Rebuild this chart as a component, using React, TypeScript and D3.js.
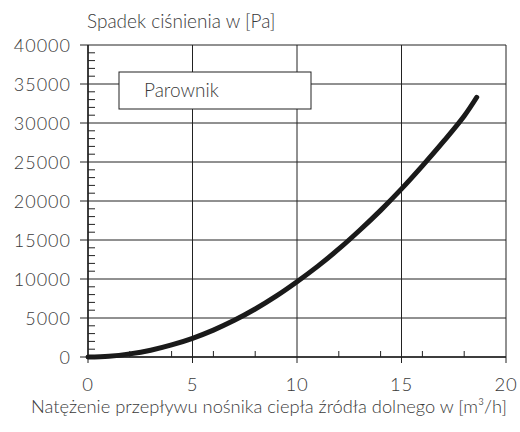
import React from "react";
import * as d3 from "d3";

const flowX = [0, 1, 2, 3, 4, 5, 6, 7, 8, 9, 10, 11, 12, 13, 14, 15, 16, 17, 18, 18.6];
const dropY = [0, 100, 400, 870, 1550, 2400, 3450, 4700, 6150, 7800, 9650, 11650, 13850, 16250, 18800, 21550, 24500, 27600, 30900, 33300];
const xTicks = [0, 5, 10, 15, 20];
const yTicks = [0, 5000, 10000, 15000, 20000, 25000, 30000, 35000, 40000];
const seriesName = "Parownik";
const yTitle = "Spadek ciśnienia w [Pa]";
const xTitle = "Natężenie przepływu nośnika ciepła źródła dolnego w [m³/h]";

export default function App() {
  const W = 520, H = 432;
  const L = 88, R = 506, T = 45, B = 357;
  const x = d3.scaleLinear().domain([0, 20]).range([L, R]);
  const y = d3.scaleLinear().domain([0, 40000]).range([B, T]);
  const line = d3.line<number>().x((_, i) => x(flowX[i])).y((d) => y(d)).curve(d3.curveCatmullRom);
  const minorY = d3.range(0, 40001, 1000).filter((v) => v % 5000 !== 0);
  const minorX = d3.range(0, 21, 2).filter((v) => v % 5 !== 0);
  const font = "Lato, 'Liberation Sans', Arial, sans-serif";
  const txt = "#3a3a3a";
  const ax = "#222";
  return (
    <svg width={W} height={H} style={{ position: "absolute", left: 0, top: 0 }} fontFamily={font} fontWeight={300}>
      <rect width={W} height={H} fill="#fff" />
      {yTicks.map((v) => (
        <line key={"gy" + v} x1={L} x2={R} y1={y(v)} y2={y(v)} stroke={ax} strokeWidth={1} />
      ))}
      {xTicks.map((v) => (
        <line key={"gx" + v} x1={x(v)} x2={x(v)} y1={T} y2={B} stroke={ax} strokeWidth={1} />
      ))}
      <rect x={119} y={72} width={192} height={37} fill="#fff" stroke={ax} strokeWidth={1} />
      <text x={144} y={97} fontSize={19} fill={txt}>{seriesName}</text>
      {minorY.map((v) => (
        <line key={"my" + v} x1={L} x2={L + 7} y1={y(v)} y2={y(v)} stroke={ax} strokeWidth={1} />
      ))}
      {minorX.map((v) => (
        <line key={"mx" + v} x1={x(v)} x2={x(v)} y1={B} y2={B - 6} stroke={ax} strokeWidth={1} />
      ))}
      {yTicks.map((v) => (
        <line key={"ty" + v} x1={L - 8} x2={L} y1={y(v)} y2={y(v)} stroke={ax} strokeWidth={1} />
      ))}
      {xTicks.map((v) => (
        <line key={"tx" + v} x1={x(v)} x2={x(v)} y1={B} y2={B + 6} stroke={ax} strokeWidth={1} />
      ))}
      <line x1={L} x2={L} y1={T} y2={B} stroke={ax} strokeWidth={1.5} />
      <line x1={L} x2={R} y1={B} y2={B} stroke={ax} strokeWidth={1.5} />
      <path d={line(dropY) || ""} fill="none" stroke="#1a1a1a" strokeWidth={5} strokeLinecap="round" />
      {yTicks.map((v) => (
        <text key={"ly" + v} x={71} y={y(v) + 6.5} fontSize={18} textAnchor="end" fill={txt} letterSpacing={1}>{v}</text>
      ))}
      {xTicks.map((v) => (
        <text key={"lx" + v} x={x(v)} y={391} fontSize={18.5} textAnchor="middle" fill={txt} letterSpacing={0.8}>{v}</text>
      ))}
      <text x={87} y={28} fontSize={19} fill={txt}>{yTitle}</text>
      <text x={269} y={413} fontSize={18.3} textAnchor="middle" fill={txt}>{xTitle}</text>
    </svg>
  );
}
